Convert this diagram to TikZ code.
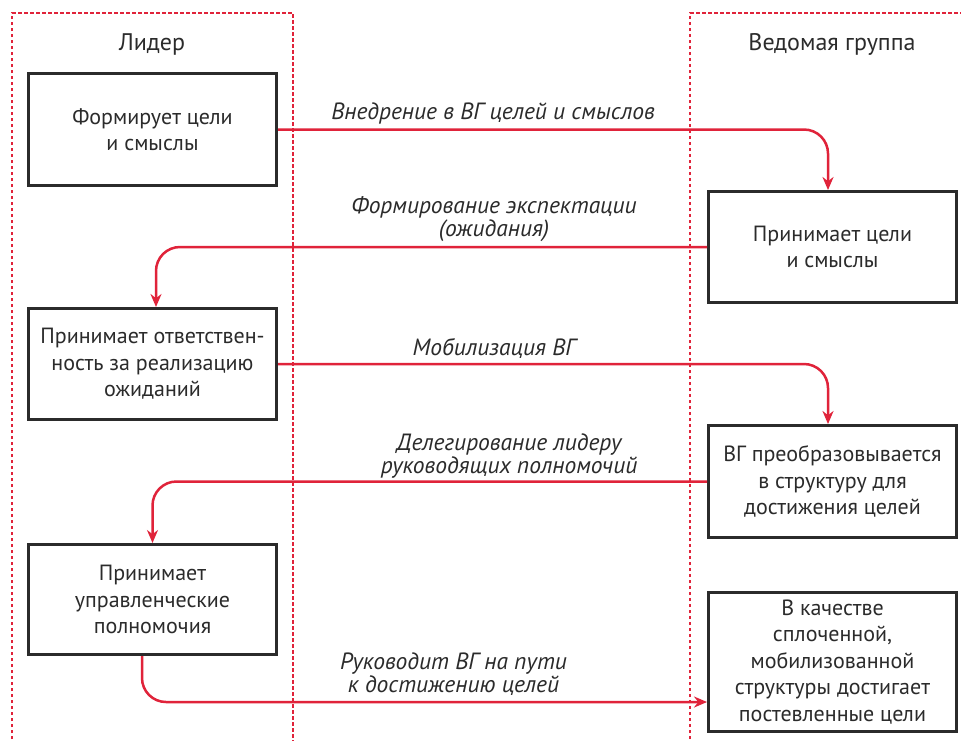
\documentclass[tikz,border=0pt]{standalone}
\usepackage{fontspec}
\setmainfont{PT Sans}
\usetikzlibrary{arrows.meta}
\definecolor{myred}{HTML}{E0233A}
\definecolor{ink}{HTML}{2B2B2B}
\begin{document}
\begin{tikzpicture}[x=1pt,y=-1pt,
  box/.style={draw=ink, line width=3pt, minimum width=248pt, align=center,
    font=\fontsize{22}{26.5}\selectfont, text=ink, inner sep=0pt},
  lane/.style={draw=myred, line width=1.1pt, dash pattern=on 3.5pt off 2.5pt},
  arr/.style={draw=myred, line width=2.5pt, rounded corners=24pt,
    -{Stealth[length=13pt,width=11pt]}},
  lbl/.style={font=\fontsize{23.5}{22.5}\selectfont\itshape, text=ink, align=center, inner sep=0pt},
  hdr/.style={font=\fontsize{24}{28}\selectfont, text=ink, inner sep=0pt}]
\useasboundingbox (0,0) rectangle (961,740);
\fill[white] (0,0) rectangle (961,740);
\draw[lane] (12,745) -- (12,13) -- (293,13) -- (293,745);
\draw[lane] (690,745) -- (690,13) -- (965,13);

\node[hdr] (hl) at (152,44) {Лидер};
\node[hdr] (hr) at (832,44) {Ведомая группа};

\node[box, minimum height=112pt] (b1) at (152.5,129.5) {Формирует цели\\и смыслы};
\node[box, minimum height=111pt] (b2) at (832.5,247) {Принимает цели\\и смыслы};
\node[box, minimum height=111pt] (b3) at (152.5,364) {Принимает ответствен-\\ность за реализацию\\ожиданий};
\node[box, minimum height=112pt] (b4) at (832.5,481.5) {ВГ преобразовывается\\в структуру для\\достижения целей};
\node[box, minimum height=110pt] (b5) at (152.5,599.5) {Принимает\\управленческие\\полномочия};
\node[box, minimum height=139pt] (b6) at (832.5,662) {В качестве\\сплоченной,\\мобилизованной\\структуры достигает\\постевленные цели};

\draw[arr] (b1.east) -| ([xshift=-4.5pt]b2.north);
\draw[arr] (b2.west) -| ([xshift=3.5pt]b3.north);
\draw[arr] (b3.east) -| ([xshift=-4.5pt]b4.north);
\draw[arr] (b4.west) -| (b5.north);
\draw[arr] ([xshift=-10.5pt]b5.south) |- ([yshift=-40pt]b6.west);

\node[lbl] (l1) at (493,113) {Внедрение в ВГ целей и смыслов};
\node[lbl] (l2) at (494,219) {Формирование экспектации\\(ожидания)};
\node[lbl] (l3) at (494,348) {Мобилизация ВГ};
\node[lbl] (l4) at (509,456) {Делегирование лидеру\\руководящих полномочий};
\node[lbl] (l5) at (453.5,674) {Руководит ВГ на пути\\к достижению целей};
\end{tikzpicture}
\end{document}
